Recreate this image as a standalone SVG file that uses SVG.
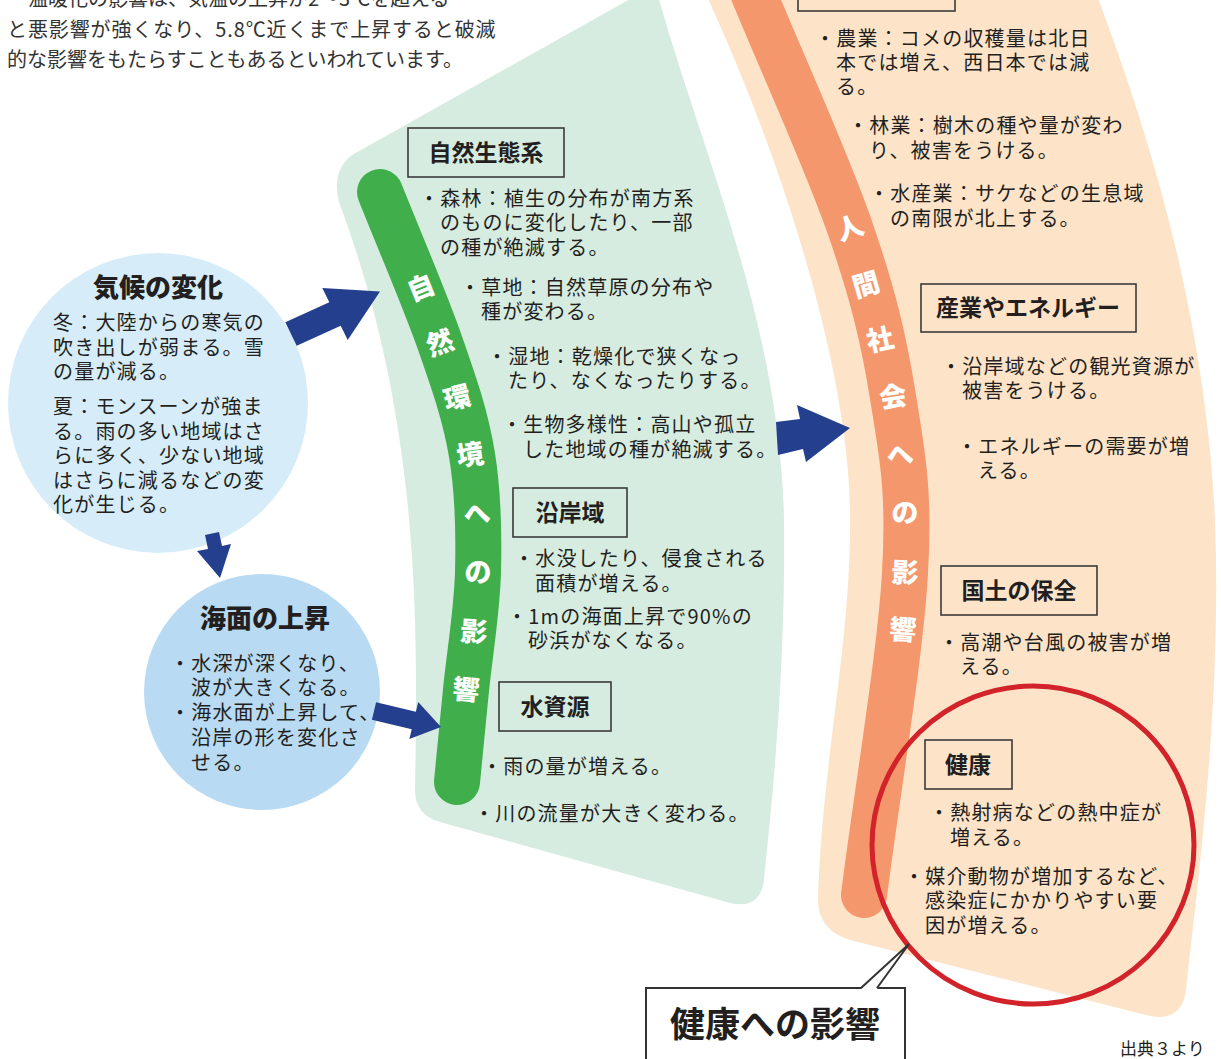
<svg xmlns="http://www.w3.org/2000/svg" width="1221" height="1059" viewBox="0 0 1221 1059">
<style>
text{font-family:"Noto Sans CJK JP","Noto Sans",sans-serif;fill:#231f20}
.t{font-size:20px;letter-spacing:1.2px}
.p{font-size:20px;fill:#333}
.h{font-size:26px;font-weight:900;text-anchor:middle}
.bx{fill:none;stroke:#3a3a3a;stroke-width:1.6}
.bt{font-size:23px;font-weight:700;text-anchor:middle}
.v{font-size:27px;font-weight:900;fill:#fff;text-anchor:middle}
.ar{fill:#243f8e}
</style>

<g id="intro">
<text class="p" x="28" y="6">温暖化の影響は、気温の上昇が2～3℃を超える</text>
<text class="p" x="7" y="37" letter-spacing="0.9">と悪影響が強くなり、5.8℃近くまで上昇すると破滅</text>
<text class="p" x="7" y="67">的な影響をもたらすこともあるといわれています。</text>
</g>

<g id="human-society">
<path d="M704,-10 L1095,-10 C1140,110 1205,300 1215,520 C1222,700 1198,880 1186,990 Q1182,1022 1150,1016 L850,940 Q818,930 818,900 C822,760 852,640 850,510 C848,380 792,180 704,-10 Z" fill="#fde4c9"/>
<path d="M752,-10 C784.7,69.3 826.5,160.2 850,228 C873.5,295.8 883.8,339.5 893,397 C902.2,454.5 909.8,490 905,573 C900.2,656 877.7,787.7 864,895" fill="none" stroke="#f5976c" stroke-width="46" stroke-linecap="round"/>
<g class="vt">
<text class="v" transform="translate(850,228) rotate(-19)" y="9.5">人</text>
<text class="v" transform="translate(866,285) rotate(-16)" y="9.5">間</text>
<text class="v" transform="translate(880,340) rotate(-12)" y="9.5">社</text>
<text class="v" transform="translate(893,397) rotate(-9)" y="9.5">会</text>
<text class="v" transform="translate(900,455) rotate(-5)" y="9.5">へ</text>
<text class="v" transform="translate(905,513) rotate(-2)" y="9.5">の</text>
<text class="v" transform="translate(905,573) rotate(2)" y="9.5">影</text>
<text class="v" transform="translate(903,630) rotate(4)" y="9.5">響</text>
</g>
</g>

<g id="natural-env">
<path d="M352,155 L655,-15 C700,150 780,320 784,520 C786,680 770,820 764,880 Q760,910 730,903 L440,822 Q415,815 415,790 C418,620 420,420 340,205 Q330,172 352,155 Z" fill="#d7ece0"/>
<path d="M380,192 C400,242.3 424.7,299.2 440,343 C455.3,386.8 465.7,416.8 472,455 C478.3,493.2 479,532.8 478,572 C477,611.2 469.5,655 466,690 C462.5,725 460,751.3 457,782" fill="none" stroke="#40ae4a" stroke-width="46" stroke-linecap="round"/>
<g class="vt">
<text class="v" transform="translate(421,288) rotate(-22)" y="9.5">自</text>
<text class="v" transform="translate(440,343) rotate(-19)" y="9.5">然</text>
<text class="v" transform="translate(457,398) rotate(-14)" y="9.5">環</text>
<text class="v" transform="translate(470,455) rotate(-8)" y="9.5">境</text>
<text class="v" transform="translate(477,514) rotate(-4)" y="9.5">へ</text>
<text class="v" transform="translate(478,572) rotate(0)" y="9.5">の</text>
<text class="v" transform="translate(474,632) rotate(4)" y="9.5">影</text>
<text class="v" transform="translate(466,690) rotate(5)" y="9.5">響</text>
</g>
</g>

<g id="climate-change">
<circle cx="158" cy="403" r="150" fill="#d6edf9"/>
<text class="h" x="158" y="297">気候の変化</text>
<text class="t" x="53" y="330">冬：大陸からの寒気の</text>
<text class="t" x="53" y="355">吹き出しが弱まる。雪</text>
<text class="t" x="53" y="379">の量が減る。</text>
<text class="t" x="53" y="414">夏：モンスーンが強ま</text>
<text class="t" x="53" y="439">る。雨の多い地域はさ</text>
<text class="t" x="53" y="463">らに多く、少ない地域</text>
<text class="t" x="53" y="488">はさらに減るなどの変</text>
<text class="t" x="53" y="512">化が生じる。</text>
</g>

<g id="sea-level">
<circle cx="262" cy="692" r="118" fill="#b8dbf3"/>
<text class="h" x="265" y="628">海面の上昇</text>
<text class="t" x="170" y="671" letter-spacing="2.8">・水深が深くなり、</text>
<text class="t" x="191" y="695">波が大きくなる。</text>
<text class="t" x="170" y="720" letter-spacing="0">・海水面が上昇して、</text>
<text class="t" x="191" y="745" letter-spacing="0.4">沿岸の形を変化さ</text>
<text class="t" x="191" y="770">せる。</text>
</g>

<g id="connectors">
<polygon class="ar" points="285.3,322.3 329.3,302.3 322.3,288 380,291.5 347.7,340 340.7,325.7 296.7,345.7"/>
<polygon class="ar" points="205,535 219,532 222,546 231,544 220,578 197,551 208,549"/>
<polygon class="ar" points="376.1,702.2 415.9,711.7 418.2,702 441,727 409.4,739 411.7,729.3 371.9,719.8"/>
<polygon class="ar" points="776,422 800,419 797,405 850,428 806,462 803,449 778,455"/>
</g>

<g id="ecosystem">
<rect class="bx" x="408" y="128" width="156" height="49"/>
<text class="bt" x="486" y="161">自然生態系</text>
<text class="t" x="419" y="206">・森林：植生の分布が南方系</text>
<text class="t" x="440" y="230">のものに変化したり、一部</text>
<text class="t" x="440" y="255">の種が絶滅する。</text>
<text class="t" x="460" y="295">・草地：自然草原の分布や</text>
<text class="t" x="481" y="319">種が変わる。</text>
<text class="t" x="487" y="364">・湿地：乾燥化で狭くなっ</text>
<text class="t" x="508" y="388">たり、なくなったりする。</text>
<text class="t" x="502" y="432">・生物多様性：高山や孤立</text>
<text class="t" x="523" y="457">した地域の種が絶滅する。</text>
</g>

<g id="coast">
<rect class="bx" x="513" y="488" width="114" height="49"/>
<text class="bt" x="570" y="521">沿岸域</text>
<text class="t" x="514" y="566">・水没したり、侵食される</text>
<text class="t" x="535" y="591">面積が増える。</text>
<text class="t" x="507" y="624" letter-spacing="3.2">・1mの海面上昇で90%の</text>
<text class="t" x="528" y="648">砂浜がなくなる。</text>
</g>

<g id="water">
<rect class="bx" x="499" y="682" width="112" height="49"/>
<text class="bt" x="555" y="715">水資源</text>
<text class="t" x="482" y="774">・雨の量が増える。</text>
<text class="t" x="474" y="821">・川の流量が大きく変わる。</text>
</g>

<g id="primary-industry">
<rect class="bx" x="798" y="-30" width="157" height="41"/>
<text class="t" x="815" y="46">・農業：コメの収穫量は北日</text>
<text class="t" x="836" y="70">本では増え、西日本では減</text>
<text class="t" x="836" y="94">る。</text>
<text class="t" x="848" y="133">・林業：樹木の種や量が変わ</text>
<text class="t" x="869" y="158">り、被害をうける。</text>
<text class="t" x="869" y="201">・水産業：サケなどの生息域</text>
<text class="t" x="890" y="226">の南限が北上する。</text>
</g>

<g id="industry-energy">
<rect class="bx" x="921" y="284" width="215" height="48"/>
<text class="bt" x="1028" y="316">産業やエネルギー</text>
<text class="t" x="941" y="374">・沿岸域などの観光資源が</text>
<text class="t" x="962" y="398">被害をうける。</text>
<text class="t" x="957" y="454">・エネルギーの需要が増</text>
<text class="t" x="978" y="478">える。</text>
</g>

<g id="land">
<rect class="bx" x="941" y="566" width="156" height="49"/>
<text class="bt" x="1019" y="599">国土の保全</text>
<text class="t" x="939" y="650">・高潮や台風の被害が増</text>
<text class="t" x="960" y="674">える。</text>
</g>

<g id="health">
<rect class="bx" x="925" y="740" width="87" height="49"/>
<text class="bt" x="968" y="773">健康</text>
<text class="t" x="929" y="820">・熱射病などの熱中症が</text>
<text class="t" x="950" y="845">増える。</text>
<text class="t" x="904" y="884">・媒介動物が増加するなど、</text>
<text class="t" x="925" y="908">感染症にかかりやすい要</text>
<text class="t" x="925" y="933">因が増える。</text>
</g>

<g id="highlight">
<ellipse cx="1033" cy="845" rx="161" ry="159" fill="none" stroke="#d2232a" stroke-width="5"/>
</g>

<g id="callout">
<rect x="646" y="988" width="259" height="80" fill="#fff" stroke="#333" stroke-width="2"/>
<polygon points="861,989 909,944 877,989" fill="#fff"/>
<polyline points="861,988 909,944 877,988" fill="none" stroke="#333" stroke-width="2"/>
<text x="670" y="1037" font-size="35" font-weight="700">健康への影響</text>
</g>

<g id="source">
<text x="1120" y="1055" font-size="17" fill="#333">出典３より</text>
</g>
</svg>
